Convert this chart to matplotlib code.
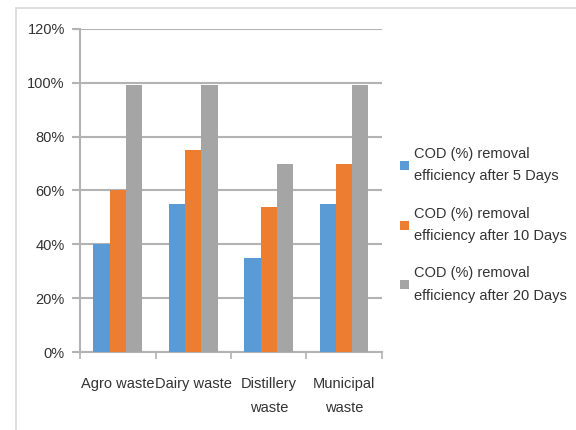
import matplotlib
matplotlib.use('Agg')
from matplotlib import pyplot as plt
from matplotlib.patches import Rectangle
import numpy as np

plt.rcParams['font.family'] = ['Liberation Sans', 'DejaVu Sans']

categories = ['Agro waste', 'Dairy waste', 'Distillery\nwaste', 'Municipal\nwaste']
after_5 = [40, 55, 35, 55]
after_10 = [60, 75, 54, 70]
after_20 = [99, 99, 70, 99]
series_labels = ['COD (%) removal\nefficiency after 5 Days',
                 'COD (%) removal\nefficiency after 10 Days',
                 'COD (%) removal\nefficiency after 20 Days']
colors = ['#5b9bd5', '#ed7d31', '#a5a5a5']
yticks = [0, 20, 40, 60, 80, 100, 120]

fig = plt.figure(figsize=(5.76, 4.30), dpi=100)
ax = fig.add_axes([0.139, 0.181, 0.524, 0.752])

x = np.arange(len(categories))
w = 0.215
for i, vals in enumerate([after_5, after_10, after_20]):
    ax.bar(x + (i - 1) * w, vals, w, color=colors[i], label=series_labels[i], zorder=3)

ax.set_xlim(-0.5, len(categories) - 0.5)
ax.set_ylim(0, 120)
ax.set_yticks(yticks)
ax.set_yticklabels(['%d%%' % v for v in yticks])
ax.yaxis.grid(True, color='#b3b3b3', linewidth=1.5, zorder=0)

# category labels centred, tick marks on the boundaries
ax.set_xticks(x)
ax.set_xticklabels(categories, linespacing=1.9)
ax.set_xticks(np.arange(len(categories) + 1) - 0.5, minor=True)
ax.tick_params(axis='x', which='major', length=0, pad=18)
ax.tick_params(axis='x', which='minor', length=5, color='#b3b3b3', width=1.2)
ax.tick_params(axis='y', length=6, color='#b3b3b3', width=1.5, pad=5)
ax.tick_params(labelsize=10.5, labelcolor='#333333')

for s in ['top', 'right']:
    ax.spines[s].set_visible(False)
for s in ['left', 'bottom']:
    ax.spines[s].set_color('#b3b3b3')
    ax.spines[s].set_linewidth(1.5)

leg = fig.legend(loc='center left', bbox_to_anchor=(0.685, 0.477), frameon=False,
                 fontsize=10.5, labelcolor='#333333', handlelength=0.6, handleheight=0.6,
                 handletextpad=0.3, labelspacing=1.6, borderaxespad=0)
for t in leg.get_texts():
    t.set_linespacing(1.75)

# thin frame around the picture
fig.patches.append(Rectangle((16 / 576, -0.05), 1.1, 1 - 8 / 430 + 0.05,
                             transform=fig.transFigure, fill=False,
                             edgecolor='#d9d9d9', linewidth=1.2))

fig.savefig('out.png', dpi=100)
